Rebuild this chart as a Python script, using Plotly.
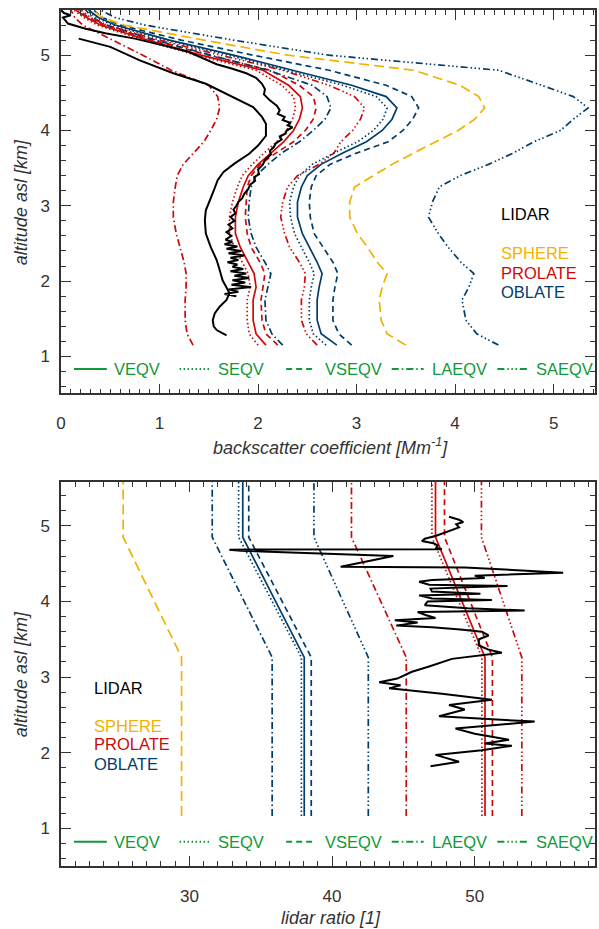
import plotly.graph_objects as go

# ---------------- data: top panel (backscatter coefficient, Mm^-1) ----------------
alt_model = [1.15, 1.30, 1.48, 1.75, 1.92, 2.10, 2.25, 2.45, 2.63, 2.85, 3.05, 3.25, 3.40, 3.55,
             3.70, 3.85, 4.00, 4.15, 4.30, 4.45, 4.60, 4.80, 5.00, 5.20, 5.40, 5.50, 5.60]

bsc_pr_veqv = [2.08, 1.98, 1.95, 1.95, 1.98, 1.96, 1.90, 1.82, 1.77, 1.77, 1.80, 1.85, 1.90, 2.00,
               2.13, 2.26, 2.36, 2.42, 2.45, 2.43, 2.31, 2.05, 1.42, 0.88, 0.40, 0.26, 0.15]
bsc_pr_seqv = [2.00, 1.91, 1.89, 1.89, 1.92, 1.90, 1.84, 1.76, 1.71, 1.71, 1.74, 1.79, 1.84, 1.94,
               2.06, 2.19, 2.29, 2.35, 2.38, 2.36, 2.24, 1.98, 1.37, 0.84, 0.37, 0.23, 0.13]
bsc_pr_vseqv = [2.20, 2.08, 2.04, 2.03, 2.05, 2.07, 2.02, 1.93, 1.89, 1.87, 1.88, 1.89, 1.93, 2.02,
                2.18, 2.36, 2.48, 2.56, 2.59, 2.56, 2.42, 2.12, 1.50, 0.93, 0.43, 0.28, 0.18]
bsc_pr_laeqv = [1.34, 1.28, 1.26, 1.26, 1.27, 1.27, 1.25, 1.21, 1.17, 1.14, 1.14, 1.16, 1.18, 1.24,
                1.35, 1.45, 1.52, 1.58, 1.61, 1.59, 1.50, 1.12, 0.83, 0.52, 0.22, 0.14, 0.10]
bsc_pr_saeqv = [2.60, 2.49, 2.44, 2.44, 2.47, 2.48, 2.42, 2.32, 2.27, 2.23, 2.25, 2.30, 2.40, 2.62,
                2.77, 2.84, 2.96, 3.04, 3.08, 2.98, 2.72, 2.25, 1.62, 1.00, 0.46, 0.30, 0.20]
bsc_ob_veqv = [2.80, 2.64, 2.60, 2.60, 2.62, 2.65, 2.60, 2.52, 2.45, 2.40, 2.40, 2.44, 2.50, 2.64,
               2.86, 3.10, 3.26, 3.36, 3.41, 3.30, 2.95, 2.35, 1.75, 1.10, 0.55, 0.38, 0.28]
bsc_ob_seqv = [2.69, 2.56, 2.52, 2.52, 2.54, 2.57, 2.52, 2.44, 2.37, 2.33, 2.32, 2.36, 2.42, 2.55,
               2.77, 3.01, 3.17, 3.27, 3.31, 3.20, 2.86, 2.28, 1.70, 1.06, 0.52, 0.36, 0.26]
bsc_ob_vseqv = [2.95, 2.82, 2.76, 2.76, 2.78, 2.81, 2.76, 2.66, 2.57, 2.53, 2.52, 2.54, 2.59, 2.73,
                3.00, 3.32, 3.47, 3.57, 3.63, 3.56, 3.30, 2.72, 1.95, 1.22, 0.60, 0.42, 0.33]
bsc_ob_laeqv = [2.25, 2.14, 2.08, 2.07, 2.10, 2.13, 2.07, 1.98, 1.93, 1.90, 1.91, 1.93, 1.98, 2.10,
                2.24, 2.42, 2.56, 2.68, 2.74, 2.70, 2.55, 2.10, 1.52, 0.96, 0.46, 0.32, 0.25]
bsc_ob_saeqv = [4.44, 4.22, 4.11, 4.07, 4.14, 4.19, 4.06, 3.93, 3.83, 3.73, 3.77, 3.84, 4.05, 4.34,
                4.59, 4.80, 5.07, 5.20, 5.35, 5.20, 4.88, 4.44, 2.72, 1.75, 0.85, 0.55, 0.40]
bsc_sp_vseqv = [3.50, 3.31, 3.25, 3.23, 3.26, 3.31, 3.21, 3.11, 3.01, 2.93, 2.93, 2.98, 3.17, 3.36,
                3.58, 3.80, 4.03, 4.20, 4.30, 4.24, 4.05, 3.58, 2.30, 1.45, 0.64, 0.42, 0.32]

alt_lidar_bsc = [5.60, 5.56, 5.53, 5.50, 5.47, 5.42, 5.35, 5.29, 5.22, 5.16,
                 5.11, 5.05, 5.00, 4.95, 4.88, 4.82, 4.76, 4.70, 4.62, 4.55,
                 4.48, 4.40, 4.33, 4.27, 4.22, 4.18, 4.14, 4.10, 4.07, 4.04,
                 4.00, 3.96, 3.92, 3.88, 3.83, 3.78, 3.73, 3.68, 3.61, 3.55,
                 3.48, 3.42, 3.38, 3.33, 3.28, 3.22, 3.16, 3.10, 3.05, 3.00,
                 2.95, 2.90, 2.85, 2.80, 2.75, 2.70, 2.65, 2.60, 2.55, 2.52,
                 2.49, 2.46, 2.43, 2.40, 2.37, 2.34, 2.31, 2.28, 2.25, 2.22,
                 2.19, 2.16, 2.13, 2.10, 2.07, 2.04, 2.01, 1.98, 1.95, 1.92,
                 1.89, 1.86, 1.83, 1.80]
bsc_lidar = [0.00, 0.03, 0.10, 0.02, 0.04, 0.07, 0.25, 0.45, 0.75, 0.95,
             1.10, 1.28, 1.37, 1.45, 1.58, 1.74, 1.88, 1.98, 2.04, 2.07,
             2.06, 2.12, 2.19, 2.22, 2.20, 2.27, 2.25, 2.33, 2.30, 2.35,
             2.29, 2.28, 2.22, 2.24, 2.18, 2.16, 2.12, 2.13, 2.07, 2.05,
             2.00, 2.01, 1.96, 1.97, 1.92, 1.90, 1.86, 1.84, 1.80, 1.78,
             1.75, 1.77, 1.72, 1.76, 1.70, 1.74, 1.68, 1.73, 1.67, 1.74,
             1.66, 1.79, 1.68, 1.83, 1.70, 1.86, 1.72, 1.80, 1.69, 1.79,
             1.74, 1.85, 1.72, 1.88, 1.76, 1.91, 1.74, 1.87, 1.73, 1.93,
             1.70, 1.80, 1.66, 1.78]

alt_lidar_bsc2 = [5.22, 5.11, 4.93, 4.76, 4.62, 4.45, 4.31, 4.18, 4.09, 3.93,
                  3.80, 3.69, 3.56, 3.45, 3.34, 3.20, 3.07, 2.94, 2.81, 2.63,
                  2.45, 2.28, 2.15, 2.01, 1.84, 1.75, 1.66, 1.57, 1.48, 1.40,
                  1.35, 1.28]
bsc_lidar2 = [0.18, 0.50, 0.80, 1.14, 1.47, 1.74, 1.95, 2.04, 2.08, 2.08,
              2.00, 1.91, 1.76, 1.65, 1.59, 1.55, 1.51, 1.47, 1.46, 1.47,
              1.52, 1.58, 1.61, 1.64, 1.71, 1.68, 1.61, 1.56, 1.54, 1.55,
              1.58, 1.68]

# ---------------- data: bottom panel (lidar ratio, sr) ----------------
alt_lr_model = [1.16, 3.26, 4.85, 5.60]
lr_sp_vseqv = [29.45, 29.45, 25.36, 25.36]
lr_ob_laeqv = [35.80, 35.80, 31.60, 31.60]
lr_ob_seqv = [37.85, 37.85, 33.45, 33.45]
lr_ob_veqv = [38.05, 38.05, 33.74, 33.74]
lr_ob_vseqv = [38.54, 38.54, 34.16, 34.16]
lr_ob_saeqv = [42.54, 42.54, 38.73, 38.73]
lr_pr_laeqv = [45.20, 45.20, 41.36, 41.36]
lr_pr_seqv = [50.50, 50.50, 47.00, 47.00]
lr_pr_veqv = [50.72, 50.72, 47.25, 47.25]
lr_pr_vseqv = [51.24, 51.24, 47.88, 47.88]
lr_pr_saeqv = [53.30, 53.30, 50.47, 50.47]

alt_lidar_lr = [5.12, 5.08, 5.05, 5.02, 4.98, 4.95, 4.91, 4.87, 4.83, 4.80,
                4.77, 4.74, 4.71, 4.69, 4.685, 4.67, 4.60, 4.46, 4.45, 4.38,
                4.34, 4.31, 4.285, 4.26, 4.22, 4.205, 4.19, 4.17, 4.13, 4.10,
                4.08, 4.04, 4.02, 4.00, 3.95, 3.91, 3.88, 3.86, 3.82, 3.78,
                3.75, 3.72, 3.68, 3.66, 3.63, 3.60, 3.55, 3.50, 3.42, 3.36,
                3.32, 3.24, 3.14, 3.07, 2.98, 2.93, 2.89, 2.85, 2.78, 2.70,
                2.63, 2.57, 2.48, 2.41, 2.32, 2.25, 2.17, 2.12, 2.09, 2.03,
                1.97, 1.88, 1.82]
lr_lidar = [48.2, 48.9, 49.2, 48.7, 48.9, 48.5, 47.9, 47.3, 46.5, 46.3,
            47.1, 47.4, 47.3, 47.7, 32.8, 33.6, 44.3, 40.6, 49.3, 56.2,
            50.0, 50.7, 47.0, 46.1, 46.8, 52.3, 50.0, 46.9, 47.0, 50.4,
            46.1, 47.0, 51.2, 46.7, 46.5, 49.5, 53.5, 46.0, 46.55, 47.25,
            44.4, 46.0, 44.5, 47.0, 49.0, 50.5, 50.97, 50.3, 50.27, 51.0,
            51.9, 48.4, 46.8, 45.6, 44.57, 43.3, 44.8, 44.0, 47.7, 51.2,
            48.2, 49.3, 47.5, 54.2, 48.65, 50.0, 52.4, 50.7, 52.6, 50.5,
            47.25, 48.9, 46.9]

shape_labels = ["LIDAR", "SPHERE", "PROLATE", "OBLATE"]
style_labels = ["VEQV", "SEQV", "VSEQV", "LAEQV", "SAEQV"]

# ---------------- styles ----------------
BLACK = "#000000"
ORANGE = "#f2b200"
RED = "#cc0a0a"
BLUE = "#003d6b"
GREEN = "#11993a"
AXC = "#333333"
FONT = "Liberation Sans, Arial, Helvetica, sans-serif"

DASHES = {
    "VEQV": "solid",
    "SEQV": "1.5px,2.5px",
    "VSEQV": "6px,4px",
    "LAEQV": "7px,3px,1.5px,3px",
    "SAEQV": "7px,3px,1.5px,2.5px,1.5px,2.5px,1.5px,3px",
}
ORANGE_DASH = "10px,5px"
LW = 1.7

fig = go.Figure()

def add(x, y, color, dash, xa, ya, width=LW):
    fig.add_trace(go.Scatter(x=x, y=y, mode="lines", xaxis=xa, yaxis=ya,
                             line=dict(color=color, width=width, dash=dash),
                             showlegend=False, hoverinfo="skip"))

# top panel
top_series = [
    (bsc_pr_laeqv, RED, DASHES["LAEQV"]),
    (bsc_pr_seqv, RED, DASHES["SEQV"]),
    (bsc_pr_veqv, RED, DASHES["VEQV"]),
    (bsc_pr_vseqv, RED, DASHES["VSEQV"]),
    (bsc_ob_laeqv, BLUE, DASHES["LAEQV"]),
    (bsc_pr_saeqv, RED, DASHES["SAEQV"]),
    (bsc_ob_seqv, BLUE, DASHES["SEQV"]),
    (bsc_ob_veqv, BLUE, DASHES["VEQV"]),
    (bsc_ob_vseqv, BLUE, DASHES["VSEQV"]),
    (bsc_sp_vseqv, ORANGE, ORANGE_DASH),
    (bsc_ob_saeqv, BLUE, DASHES["SAEQV"]),
]
for vals, col, dsh in top_series:
    add(vals, alt_model, col, dsh, "x", "y")
add(bsc_lidar2, alt_lidar_bsc2, BLACK, "solid", "x", "y", 2.0)
add(bsc_lidar, alt_lidar_bsc, BLACK, "solid", "x", "y", 2.0)

# bottom panel
bot_series = [
    (lr_sp_vseqv, ORANGE, ORANGE_DASH),
    (lr_ob_laeqv, BLUE, DASHES["LAEQV"]),
    (lr_ob_seqv, BLUE, DASHES["SEQV"]),
    (lr_ob_veqv, BLUE, DASHES["VEQV"]),
    (lr_ob_vseqv, BLUE, DASHES["VSEQV"]),
    (lr_ob_saeqv, BLUE, DASHES["SAEQV"]),
    (lr_pr_laeqv, RED, DASHES["LAEQV"]),
    (lr_pr_seqv, RED, DASHES["SEQV"]),
    (lr_pr_veqv, RED, DASHES["VEQV"]),
    (lr_pr_vseqv, RED, DASHES["VSEQV"]),
    (lr_pr_saeqv, RED, DASHES["SAEQV"]),
]
for vals, col, dsh in bot_series:
    add(vals, alt_lr_model, col, dsh, "x2", "y2")
add(lr_lidar, alt_lidar_lr, BLACK, "solid", "x2", "y2", 2.0)

# ---------------- layout ----------------
W, H = 599, 929
ML, MR, MT, MB = 61, 2, 10, 63
PW = W - ML - MR
PH = H - MT - MB
top_dom = [(866 - 393.3) / PH, 1.0]
bot_dom = [0.0, (866 - 482) / PH]

tickfont = dict(family=FONT, size=17, color=AXC)
common = dict(showline=True, linecolor=AXC, linewidth=1.5, mirror="allticks",
              ticks="inside", tickcolor=AXC, tickwidth=1.2, showgrid=False,
              zeroline=False, tickfont=tickfont)

fig.update_layout(
    width=W, height=H, autosize=False,
    margin=dict(l=ML, r=MR, t=MT, b=MB),
    paper_bgcolor="white", plot_bgcolor="white",
    showlegend=False,
    xaxis=dict(domain=[0, 1], anchor="y", range=[0, 5.42], tickmode="linear", tick0=0, dtick=1,
               ticklen=10, ticklabelstandoff=14,
               minor=dict(dtick=0.1, ticks="inside", ticklen=5, tickcolor=AXC, tickwidth=1), **common),
    yaxis=dict(domain=top_dom, anchor="x", range=[0.51, 5.6], tickmode="linear", tick0=0, dtick=1,
               ticklen=10, ticklabelstandoff=6,
               minor=dict(dtick=0.2, ticks="inside", ticklen=5, tickcolor=AXC, tickwidth=1), **common),
    xaxis2=dict(domain=[0, 1], anchor="y2", range=[21, 58.43], tickmode="linear", tick0=0, dtick=10,
                ticklen=10, ticklabelstandoff=14,
                minor=dict(dtick=1, ticks="inside", ticklen=5, tickcolor=AXC, tickwidth=1), **common),
    yaxis2=dict(domain=bot_dom, anchor="x2", range=[0.5, 5.58], tickmode="linear", tick0=0, dtick=1,
                ticklen=10, ticklabelstandoff=6,
                minor=dict(dtick=0.2, ticks="inside", ticklen=5, tickcolor=AXC, tickwidth=1), **common),
)

def fx(px):
    return (px - ML) / PW

def fy(py):
    return (H - MB - py) / PH

# axis titles
title_font = dict(family=FONT, size=18, color=AXC)
fig.add_annotation(text="<i>altitude asl [km]</i>", xref="paper", yref="paper",
                   x=fx(21), y=fy(202), textangle=-90, showarrow=False, font=title_font,
                   xanchor="center", yanchor="middle")
fig.add_annotation(text="<i>altitude asl [km]</i>", xref="paper", yref="paper",
                   x=fx(21), y=fy(674), textangle=-90, showarrow=False, font=title_font,
                   xanchor="center", yanchor="middle")
fig.add_annotation(text="<i>backscatter coefficient [Mm<sup>-1</sup>]</i>", xref="paper", yref="paper",
                   x=fx(332), y=fy(446), showarrow=False, font=title_font,
                   xanchor="center", yanchor="middle")
fig.add_annotation(text="<i>lidar ratio [1]</i>", xref="paper", yref="paper",
                   x=fx(332), y=fy(918), showarrow=False, font=title_font,
                   xanchor="center", yanchor="middle")

# shape-type labels
label_colors = [BLACK, ORANGE, RED, BLUE]
lab_font = 16.5
top_label_y = [214.5, 253, 272.5, 291.5]
bot_label_y = [687.5, 726, 744, 763.5]
for lab, col, py in zip(shape_labels, label_colors, top_label_y):
    fig.add_annotation(text=lab, xref="paper", yref="paper", x=fx(501), y=fy(py),
                       xanchor="left", yanchor="middle", showarrow=False,
                       font=dict(family=FONT, size=lab_font, color=col))
for lab, col, py in zip(shape_labels, label_colors, bot_label_y):
    fig.add_annotation(text=lab, xref="paper", yref="paper", x=fx(92), y=fy(py),
                       xanchor="left", yanchor="middle", showarrow=False,
                       font=dict(family=FONT, size=lab_font, color=col))

# line-style key
sample_px = [(74, 107), (180, 212), (287, 317), (393, 425), (499, 530)]
text_px = [112, 217, 324, 431, 536]
for py in (369, 841.7):
    for lab, (a, b), t in zip(style_labels, sample_px, text_px):
        fig.add_shape(type="line", xref="paper", yref="paper",
                      x0=fx(a), x1=fx(b), y0=fy(py), y1=fy(py),
                      line=dict(color=GREEN, width=2, dash=DASHES[lab]))
        fig.add_annotation(text=lab, xref="paper", yref="paper", x=fx(t), y=fy(py),
                           xanchor="left", yanchor="middle", showarrow=False,
                           font=dict(family=FONT, size=lab_font, color=GREEN))

fig.write_html("out.html", config={"displayModeBar": False},
               post_script="document.body.style.margin='0px';document.body.style.overflow='hidden';")
